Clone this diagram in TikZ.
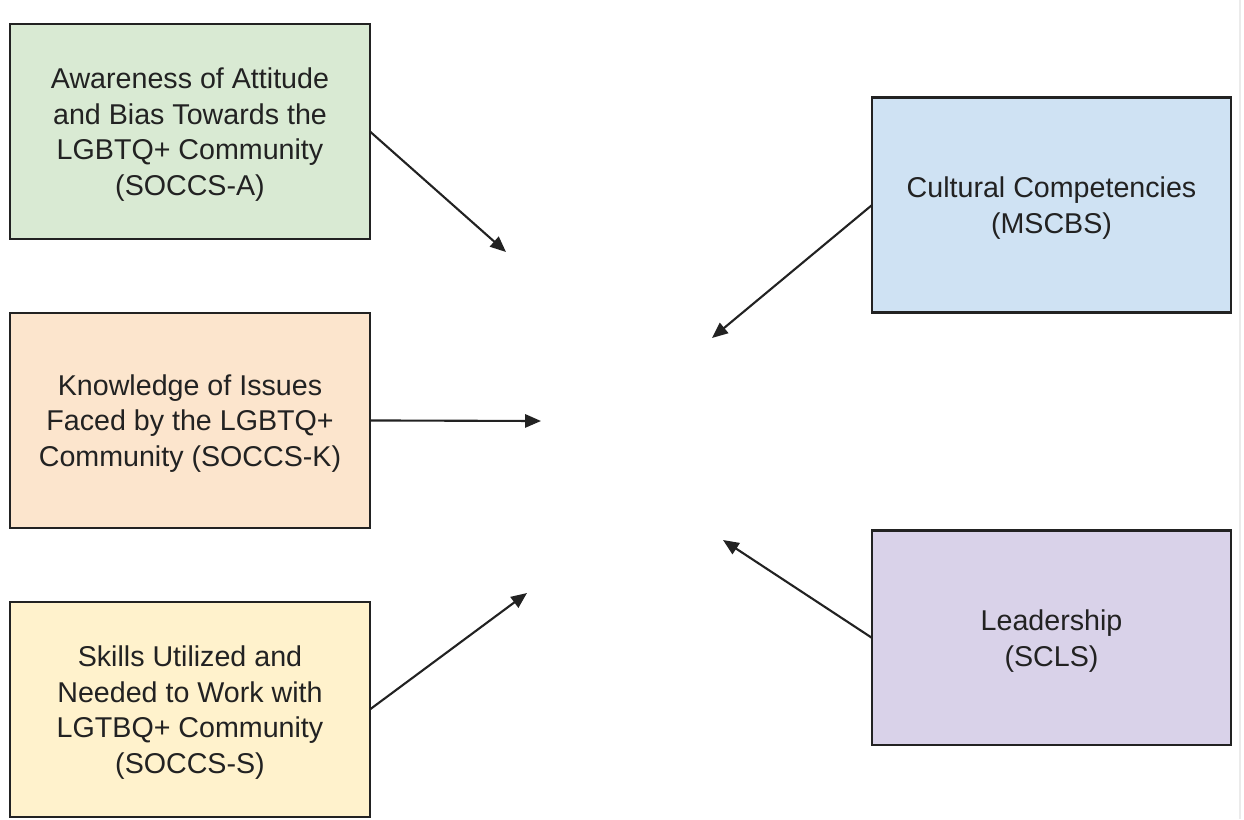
\documentclass[tikz,border=0pt]{standalone}
\usepackage{fontspec}
\setmainfont{Liberation Sans}
\usepackage{xcolor}
\usetikzlibrary{arrows.meta, positioning}
\definecolor{awaregreen}{HTML}{D9EAD3}
\definecolor{knoworange}{HTML}{FCE5CD}
\definecolor{skillyellow}{HTML}{FFF2CC}
\definecolor{cultureblue}{HTML}{CFE2F3}
\definecolor{leadpurple}{HTML}{D9D2E9}
\definecolor{inkgray}{HTML}{222222}

\begin{document}
\begin{tikzpicture}[x=0.02cm, y=-0.02cm]
    % Styles
    \tikzstyle{block} = [rectangle, draw=inkgray, line width=1.2pt, outer sep=0pt, text=inkgray, align=center, text depth=-1.5pt, minimum width=7.2cm, minimum height=4.3cm, font=\fontsize{16.3pt}{20.2pt}\selectfont]
    \tikzstyle{arrow} = [line width=1.2pt, inkgray, -{Triangle[length=9pt, width=7.5pt]}]

    \useasboundingbox (0,0) rectangle (1244,819);
    \draw [black!8, line width=1pt] (1240,0) -- (1240,819);

    % Nodes
    \node [block, fill=awaregreen] (aware) at (190,131.5) {Awareness of Attitude\\and Bias Towards the\\LGBTQ+ Community\\(SOCCS-A)};
    \node [block, fill=knoworange, below=1.48cm of aware] (know) {Knowledge of Issues\\Faced by the LGBTQ+\\Community (SOCCS-K)};
    \node [block, fill=skillyellow, below=1.48cm of know] (skill) {Skills Utilized and\\Needed to Work with\\LGTBQ+ Community\\(SOCCS-S)};
    \node [block, fill=cultureblue, minimum width=7.18cm] (culture) at (1051.5,205) {Cultural Competencies\\(MSCBS)};
    \node [block, fill=leadpurple, minimum width=7.18cm, below=4.36cm of culture] (lead) {Leadership\\(SCLS)};

    % Arrow tips
    \coordinate (tipA) at (506,252);
    \coordinate (tipK) at (541,421);
    \coordinate (tipS) at (527,593);
    \coordinate (tipC) at (712,338);
    \coordinate (tipL) at (723,540);

    % Arrows
    \draw [arrow] (aware.east) -- (tipA);
    \draw [arrow] (know.east) -- (tipK);
    \draw [arrow] (skill.east) -- (tipS);
    \draw [arrow] (culture.west) -- (tipC);
    \draw [arrow] (lead.west) -- (tipL);
\end{tikzpicture}
\end{document}
